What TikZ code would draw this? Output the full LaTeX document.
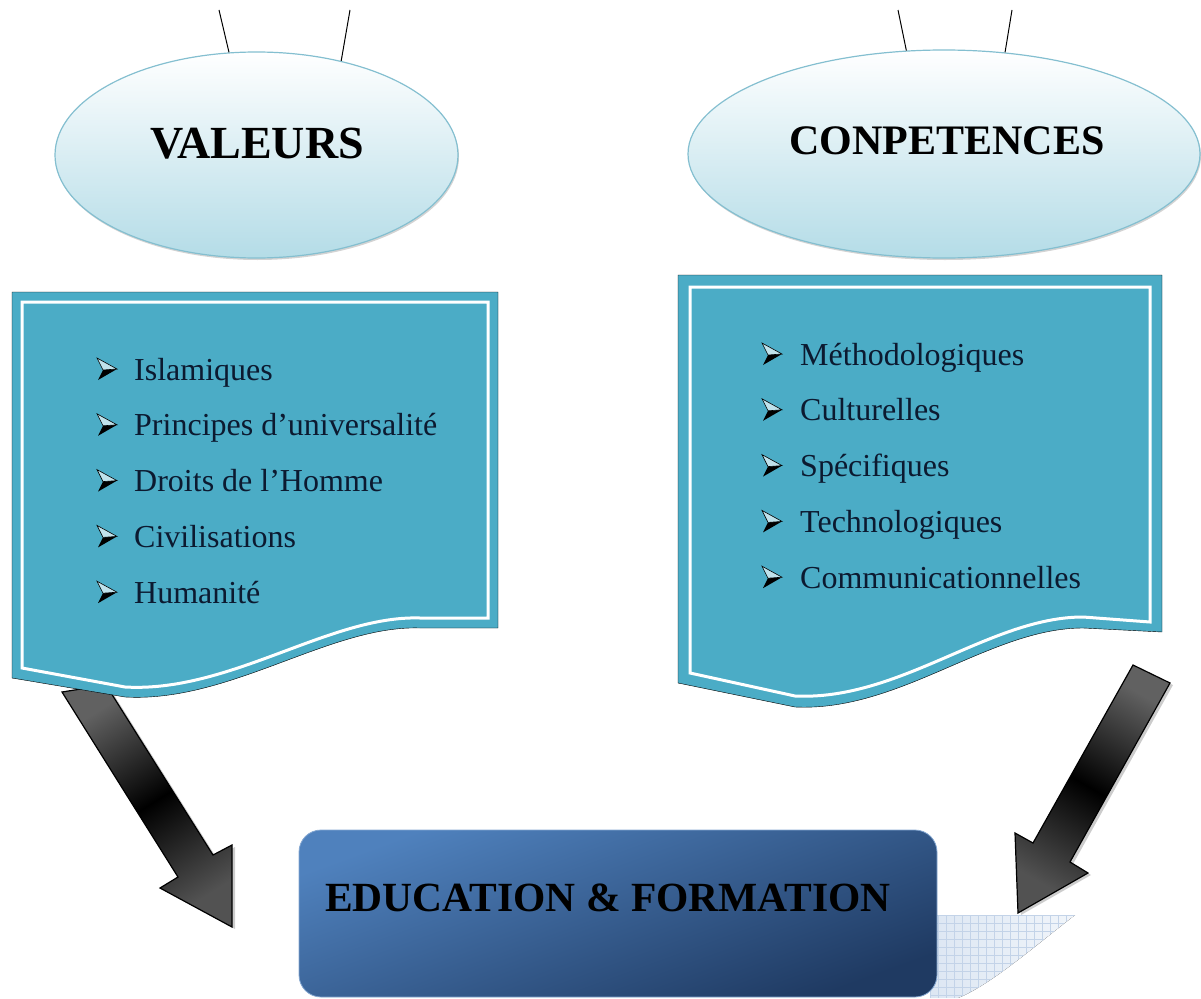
\documentclass[tikz,border=0pt]{standalone}
\usepackage{fontspec}
\setmainfont{Liberation Serif}
\usetikzlibrary{shapes.geometric,shadows}

\definecolor{docblue}{HTML}{4BACC6}
\definecolor{ellblue}{HTML}{B4DCE7}
\definecolor{ellline}{HTML}{84BFD0}
\definecolor{boxtop}{HTML}{4F81BD}
\definecolor{boxbot}{HTML}{1F3A62}
\definecolor{itemtxt}{HTML}{0C1A30}
\definecolor{gridblue}{HTML}{C3D3E8}
\definecolor{shadeblue}{HTML}{DDE7F3}

\tikzset{
	bubble/.style={ellipse, draw=ellline, line width=1.2pt, top color=white, bottom color=ellblue,
		drop shadow={shadow xshift=1pt, shadow yshift=-2pt, opacity=0.35}},
	title/.style={font=\bfseries\fontsize{#1}{#1}\selectfont, inner sep=0pt},
	item/.style={anchor=base west, inner sep=0pt, text=itemtxt, font=\fontsize{32}{36}\selectfont},
	paper/.style={fill=docblue},
	rim/.style={draw=white, line width=3pt},
	fatarrow/.style={draw=black, line width=1.2pt, top color=black!62, bottom color=black!68, middle color=black,
		drop shadow={shadow xshift=3pt, shadow yshift=-2pt, opacity=0.4}},
	hang/.style={line width=1pt},
	edubox/.style={rectangle, rounded corners=22pt, minimum width=638pt, minimum height=167pt,
		draw=boxtop!70!white, line width=0.8pt, top color=boxtop, bottom color=boxbot},
	% 3d arrow head in front of the list entries
	listmark/.pic={
		\fill[black] (6,-10) -- (20,-11) -- (1,0) -- cycle;
		\filldraw[fill=docblue!35!white, draw=black, line width=0.6pt] (0,-22) -- (20,-11) -- (6,-10) -- cycle;
	}
}

\begin{document}
\begin{tikzpicture}[x=1pt, y=-1pt]
	\useasboundingbox (0,0) rectangle (1201,998);

	% the two ovals and their strings
	\node[bubble, minimum width=403pt, minimum height=206pt] (valeurs) at (256.5,155) {};
	\node[title=46] (valeurs-t) at (257,144) {VALEURS};
	\node[bubble, minimum width=512pt, minimum height=208pt] (competences) at (944,154) {};
	\node[title=42] (competences-t) at (947,141) {CONPETENCES};

	\coordinate (v-a) at (219,10);
	\coordinate (v-b) at (350,10);
	\coordinate (c-a) at (898,10);
	\coordinate (c-b) at (1012,10);
	\draw[hang] (v-a) -- (valeurs.105.5);
	\draw[hang] (v-b) -- (valeurs.48.7);
	\draw[hang] (c-a) -- (competences.110);
	\draw[hang] (c-b) -- (competences.59);

	% block arrows, under the sheets
	\draw[fatarrow, shading angle=32] (62,692) -- (106,685) -- (213,855) -- (232,845) -- (232,927)
		-- (160,888) -- (178,877) -- cycle;
	\draw[fatarrow, shading angle=-30] (1133,665) -- (1170,683) -- (1070,862) -- (1088,873)
		-- (1018,913) -- (1015,833) -- (1033,843) -- cycle;

	% the two sheets
	\draw[paper] (12,292) -- (498,292) -- (498,628) -- (420,628) .. controls (330,625) and (230,703) .. (125,697)
		-- (12,678) -- cycle;
	\draw[rim] (22,302) -- (488,302) -- (488,618) -- (420,618) .. controls (330,615) and (230,693) .. (125,687)
		-- (22,668) -- cycle;
	\draw[paper] (678,275) -- (1162,275) -- (1162,632) -- (1083,628) .. controls (990,628) and (900,712) .. (795,707)
		-- (678,683) -- cycle;
	\draw[rim] (690,287) -- (1150,287) -- (1150,622) -- (1083,617) .. controls (990,617) and (900,701) .. (795,696)
		-- (690,673) -- cycle;

	\foreach \t [count=\i from 0] in {Islamiques, Principes d’universalité, Droits de l’Homme, Civilisations, Humanité}{%
		\node[item] (val-\i) at (134,{380+55.8*\i}) {\t};
		\pic at ([xshift=-37pt]val-\i.base west) {listmark};
	}
	\foreach \t [count=\i from 0] in {Méthodologiques, Culturelles, Spécifiques, Technologiques, Communicationnelles}{%
		\node[item] (comp-\i) at (800,{365+55.8*\i}) {\t};
		\pic at ([xshift=-38pt]comp-\i.base west) {listmark};
	}

	% floor shadow with grid, then the bottom box
	\begin{scope}
		\clip (930,915) -- (1075,915) .. controls (1030,950) and (990,985) .. (958,998) -- (930,998) -- cycle;
		\fill[left color=shadeblue, right color=shadeblue!40] (930,915) rectangle (1080,998);
		\foreach \g in {0,8,...,150}{%
			\draw[gridblue, line width=0.4pt] (930+\g,915) -- (930+\g,998);
		}
		\foreach \g in {0,8,...,88}{%
			\draw[gridblue, line width=0.4pt] (930,915+\g) -- (1080,915+\g);
		}
	\end{scope}
	\node[edubox, shading angle=20] (edu) at (618,913.5) {};
	\node[title=41.5] (edu-t) at (608,898) {EDUCATION \& FORMATION};
\end{tikzpicture}
\end{document}
